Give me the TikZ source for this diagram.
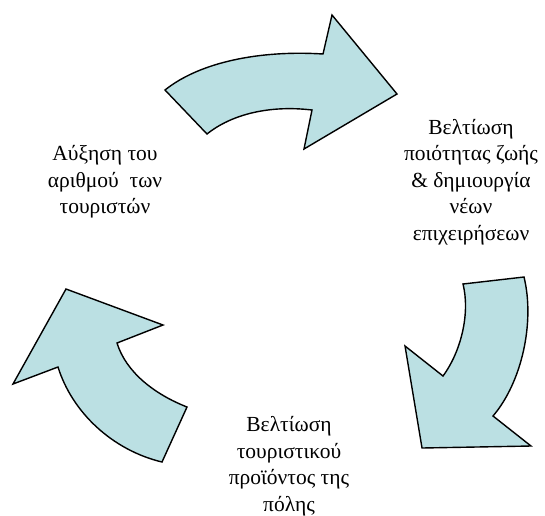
\documentclass[tikz,border=0pt]{standalone}
\usepackage{fontspec}
\setmainfont{Liberation Serif}
\definecolor{arrowfill}{RGB}{187,224,227}
\tikzset{
  cyclearrow/.style={draw=black, line width=1.4pt, fill=arrowfill, line join=miter},
  cycletext/.style={align=center, font=\fontsize{21.5}{26.5}\selectfont}
}
\begin{document}
\begin{tikzpicture}[x=1pt,y=-1pt]
		\useasboundingbox (0,0) rectangle (545,515);
		
		% Top arrow
		\draw[cyclearrow] (165,90) -- (207,134)
			.. controls (232,114) and (270,105) .. (312,110)
			-- (304,149) -- (397,94) -- (332,15) -- (323,54)
			.. controls (260,50) and (200,62) .. cycle;
		
		% Right arrow
		\draw[cyclearrow] (463,284) -- (524,277)
			.. controls (535,322) and (522,382) .. (493,416)
			-- (531,446) -- (422,448) -- (405,346) -- (443,376)
			.. controls (462,350) and (470,312) .. cycle;
		
		% Left arrow
		\draw[cyclearrow] (117,343) -- (163,325) -- (66,289) -- (13,384) -- (58,367)
			.. controls (72,412) and (112,450) .. (162,462)
			-- (187,407)
			.. controls (154,394) and (126,372) .. cycle;
		
		% Labels
		\node[cycletext] (quality) at (471,182) {Βελτίωση\\ποιότητας ζωής\\\& δημιουργία\\νέων\\επιχειρήσεων};
		\node[cycletext] (product) at (289,466) {Βελτίωση\\τουριστικού\\προϊόντος της\\πόλης};
		\node[cycletext] (tourists) at (105,182) {Αύξηση του\\αριθμού\ \ των\\τουριστών};
		
	\end{tikzpicture}
\end{document}
